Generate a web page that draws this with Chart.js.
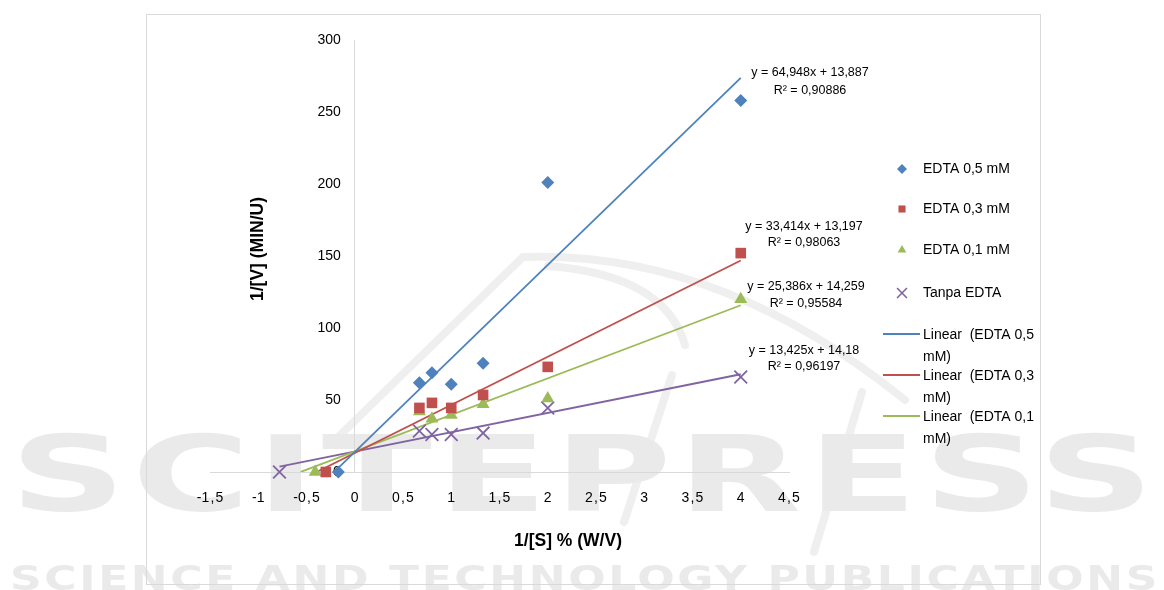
<!DOCTYPE html>
<html>
<head>
<meta charset="utf-8">
<script src="https://cdn.jsdelivr.net/npm/chart.js@4.4.1/dist/chart.umd.min.js"></script>
<style>
  html, body { margin: 0; padding: 0; background: #fff; }
  #wrap { width: 1164px; height: 590px; }
</style>
</head>
<body>
<div id="wrap"><canvas id="chart"></canvas></div>
<script>
// 1/[S] values shared by all series
const xConc = [0.67, 0.8, 1, 1.33, 2, 4];

const seriesNames = ['EDTA 0,5 mM', 'EDTA 0,3 mM', 'EDTA 0,1 mM', 'Tanpa EDTA'];
const edta05 = [62, 69, 61, 75.5, 201, 258];
const edta03 = [44.5, 48, 44.5, 53.5, 73, 152];
const edta01 = [42, 37, 39.5, 47, 51, 120];
const tanpa  = [28.5, 26, 26, 27, 44.5, 66];
// extra point of every series that sits on the x axis
const xAxisPoint = [-0.17, -0.30, -0.41, -0.78];

// linear trendlines (from the equations printed on the chart)
const trendNames = ['Linear  (EDTA 0,5 mM)', 'Linear  (EDTA 0,3 mM)', 'Linear  (EDTA 0,1 mM)', 'Linear  (Tanpa EDTA)'];
const slopes = [64.948, 33.414, 25.386, 13.425];
const intercepts = [13.887, 13.197, 14.259, 14.18];
const trendFrom = [-0.17, -0.395, -0.56, -0.78];
const trendTo = [4, 4, 4, 4];
const equations = ['y = 64,948x + 13,887', 'y = 33,414x + 13,197', 'y = 25,386x + 14,259', 'y = 13,425x + 14,18'];
const rSquared = ['R\u00b2 = 0,90886', 'R\u00b2 = 0,98063', 'R\u00b2 = 0,95584', 'R\u00b2 = 0,96197'];

const xTicks = [-1.5, -1, -0.5, 0, 0.5, 1, 1.5, 2, 2.5, 3, 3.5, 4, 4.5];
const xTickLabels = ['-1\u200a,\u200a5', '-1', '-0\u200a,\u200a5', '0', '0\u200a,\u200a5', '1', '1\u200a,\u200a5', '2', '2\u200a,\u200a5', '3', '3\u200a,\u200a5', '4', '4\u200a,\u200a5'];
const yTicks = [0, 50, 100, 150, 200, 250, 300];

const colors = ['#4f81bd', '#c0504d', '#9bbb59', '#8064a2'];
const markers = [
  { style: 'rectRot', radius: 6.5 },
  { style: 'rect', radius: 7.5 },
  { style: 'triangle', radius: 7.5 },
  { style: 'crossRot', radius: 9 }
];

const FONT = '"Liberation Sans", Arial, sans-serif';
const allSeries = [edta05, edta03, edta01, tanpa];

const datasets = [];
allSeries.forEach((vals, i) => {
  const pts = xConc.map((x, j) => ({ x: x, y: vals[j] }));
  pts.push({ x: xAxisPoint[i], y: 0 });
  datasets.push({
    label: seriesNames[i],
    data: pts,
    pointStyle: markers[i].style,
    pointRadius: markers[i].radius,
    pointHoverRadius: markers[i].radius,
    backgroundColor: colors[i],
    borderColor: colors[i],
    borderWidth: i === 3 ? 1.8 : 0,
    showLine: false,
    clip: false,
    order: 0
  });
});
slopes.forEach((m, i) => {
  datasets.push({
    label: trendNames[i],
    data: [trendFrom[i], trendTo[i]].map(x => ({ x: x, y: m * x + intercepts[i] })),
    showLine: true,
    borderColor: colors[i],
    borderWidth: 1.8,
    pointRadius: 0,
    fill: false,
    order: 1
  });
});

function drawMarker(ctx, style, x, y, r, color) {
  ctx.save();
  ctx.fillStyle = color;
  ctx.strokeStyle = color;
  ctx.beginPath();
  if (style === 'rectRot') {
    ctx.moveTo(x - r, y); ctx.lineTo(x, y - r); ctx.lineTo(x + r, y); ctx.lineTo(x, y + r);
    ctx.closePath(); ctx.fill();
  } else if (style === 'rect') {
    const s = r * Math.SQRT1_2;
    ctx.rect(x - s, y - s, 2 * s, 2 * s); ctx.fill();
  } else if (style === 'triangle') {
    ctx.moveTo(x, y - r); ctx.lineTo(x + r * 0.866, y + r * 0.5); ctx.lineTo(x - r * 0.866, y + r * 0.5);
    ctx.closePath(); ctx.fill();
  } else {
    const s = r * Math.SQRT1_2;
    ctx.lineWidth = 1.6;
    ctx.moveTo(x - s, y - s); ctx.lineTo(x + s, y + s);
    ctx.moveTo(x + s, y - s); ctx.lineTo(x - s, y + s);
    ctx.stroke();
  }
  ctx.restore();
}

const backdrop = {
  id: 'backdrop',
  beforeDraw(chart) {
    const ctx = chart.ctx;
    ctx.save();
    // faint publisher watermark
    ctx.strokeStyle = '#efefef';
    ctx.lineWidth = 8;
    ctx.lineCap = 'round';
    ctx.beginPath();
    ctx.moveTo(330, 445);
    ctx.lineTo(523, 257);
    ctx.quadraticCurveTo(720, 250, 905, 400);
    ctx.moveTo(548, 266);
    ctx.quadraticCurveTo(665, 275, 685, 345);
    ctx.moveTo(672, 375); ctx.lineTo(624, 522);
    ctx.moveTo(862, 392); ctx.lineTo(814, 552);
    ctx.stroke();

    ctx.fillStyle = '#eaeaea';
    ctx.textBaseline = 'alphabetic';
    ctx.textAlign = 'left';
    ctx.font = 'bold 105px "DejaVu Sans"';
    ctx.letterSpacing = '4px';
    let w = ctx.measureText('SCITEPRESS').width;
    ctx.save();
    ctx.translate(10, 511);
    ctx.scale(1150 / w, 1);
    ctx.fillText('SCITEPRESS', 0, 0);
    ctx.restore();

    ctx.font = 'bold 34px "DejaVu Sans"';
    ctx.letterSpacing = '2px';
    w = ctx.measureText('SCIENCE AND TECHNOLOGY PUBLICATIONS').width;
    ctx.save();
    ctx.translate(10, 590);
    ctx.scale(1150 / w, 1);
    ctx.fillText('SCIENCE AND TECHNOLOGY PUBLICATIONS', 0, 0);
    ctx.restore();
    ctx.letterSpacing = '0px';

    // chart frame
    ctx.strokeStyle = '#d9d9d9';
    ctx.lineWidth = 1;
    ctx.strokeRect(146.5, 14.5, 894, 570);
    ctx.restore();
  }
};

const overlay = {
  id: 'overlay',
  afterDraw(chart) {
    const ctx = chart.ctx;
    ctx.save();
    ctx.fillStyle = '#000';
    ctx.textBaseline = 'middle';

    // trendline equations
    ctx.textAlign = 'center';
    ctx.font = '12.5px ' + FONT;
    const eqPos = [[810, 73, 91], [804, 227, 243], [806, 287, 304], [804, 351, 367]];
    eqPos.forEach((p, i) => {
      ctx.fillText(equations[i], p[0], p[1]);
      ctx.fillText(rSquared[i], p[0], p[2]);
    });

    // axis titles
    ctx.font = 'bold 17.5px ' + FONT;
    ctx.fillText('1/[S] % (W/V)', 568, 541);
    ctx.save();
    ctx.translate(258, 249);
    ctx.rotate(-Math.PI / 2);
    ctx.fillText('1/[V] (MIN/U)', 0, 0);
    ctx.restore();

    // legend
    ctx.textAlign = 'left';
    ctx.font = '14px ' + FONT;
    const rows = [169, 209, 250, 293];
    seriesNames.forEach((name, i) => {
      drawMarker(ctx, markers[i].style, 902, rows[i], i === 3 ? 7 : 5, colors[i]);
      ctx.fillStyle = '#000';
      ctx.fillText(name, 923, rows[i]);
    });
    const lineRows = [334, 375, 416];
    lineRows.forEach((y, i) => {
      ctx.strokeStyle = colors[i];
      ctx.lineWidth = 1.8;
      ctx.beginPath();
      ctx.moveTo(883, y);
      ctx.lineTo(920, y);
      ctx.stroke();
      const name = trendNames[i];
      const cut = name.lastIndexOf(' ');
      ctx.fillText(name.slice(0, cut), 923, y + 1);
      ctx.fillText(name.slice(cut + 1), 923, y + 23);
    });
    ctx.restore();
  }
};

new Chart(document.getElementById('chart'), {
  type: 'scatter',
  data: { datasets: datasets },
  options: {
    responsive: true,
    maintainAspectRatio: false,
    animation: false,
    layout: { padding: { left: 210, right: 375, top: 40, bottom: 0 } },
    plugins: {
      legend: { display: false },
      tooltip: { enabled: false }
    },
    scales: {
      x: {
        type: 'linear',
        position: 'bottom',
        min: -1.5,
        max: 4.5,
        afterBuildTicks: s => { s.ticks = xTicks.map(v => ({ value: v })); },
        afterFit: s => { s.height = 118; },
        grid: { display: false, drawTicks: false },
        border: { display: true, color: '#d9d9d9', width: 1 },
        ticks: {
          autoSkip: false,
          maxRotation: 0,
          padding: 18,
          color: '#000',
          font: { family: FONT, size: 14 },
          callback: (v, i) => xTickLabels[i]
        }
      },
      y: {
        type: 'linear',
        position: { x: 0 },
        min: 0,
        max: 300,
        afterBuildTicks: s => { s.ticks = yTicks.map(v => ({ value: v })); },
        grid: { display: false, drawTicks: false },
        border: { display: true, color: '#d9d9d9', width: 1 },
        ticks: {
          color: '#000',
          font: { family: FONT, size: 14 },
          // the axis sits at x = 0, where Chart.js ignores tick padding: keep a gap with an em space
          callback: v => String(v) + '\u2003'
        }
      }
    }
  },
  plugins: [backdrop, overlay]
});
</script>
</body>
</html>
